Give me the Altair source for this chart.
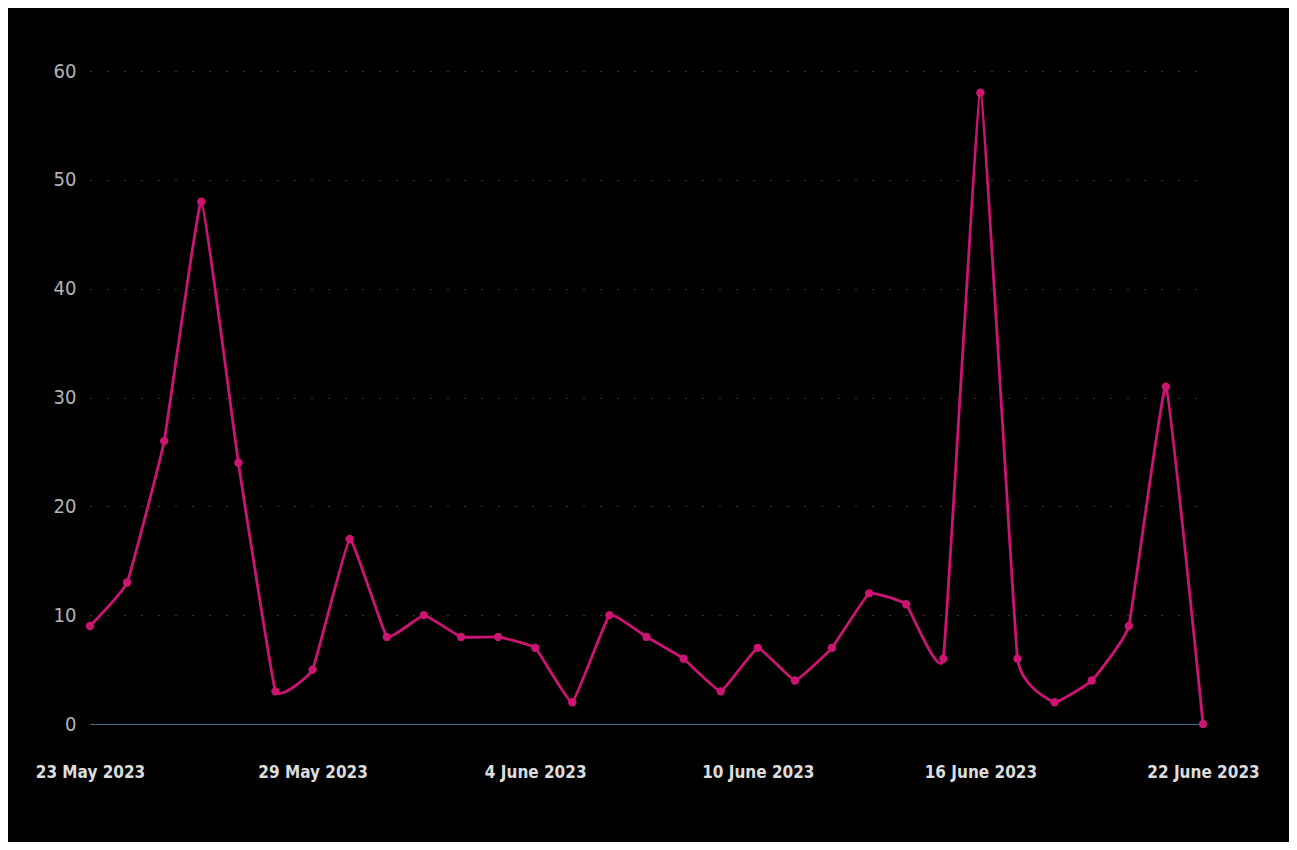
import altair as alt
import pandas as pd

dates = [
    "2023-05-23", "2023-05-24", "2023-05-25", "2023-05-26", "2023-05-27",
    "2023-05-28", "2023-05-29", "2023-05-30", "2023-05-31", "2023-06-01",
    "2023-06-02", "2023-06-03", "2023-06-04", "2023-06-05", "2023-06-06",
    "2023-06-07", "2023-06-08", "2023-06-09", "2023-06-10", "2023-06-11",
    "2023-06-12", "2023-06-13", "2023-06-14", "2023-06-15", "2023-06-16",
    "2023-06-17", "2023-06-18", "2023-06-19", "2023-06-20", "2023-06-21",
    "2023-06-22",
]
values = [9, 13, 26, 48, 24, 3, 5, 17, 8, 10,
          8, 8, 7, 2, 10, 8, 6, 3, 7, 4,
          7, 12, 11, 6, 58, 6, 2, 4, 9, 31,
          0]
x_ticks = [(2023, 5, 23), (2023, 5, 29), (2023, 6, 4), (2023, 6, 10), (2023, 6, 16), (2023, 6, 22)]
y_ticks = [0, 10, 20, 30, 40, 50, 60]

df = pd.DataFrame({"date": dates, "value": values})

line_color = "#cc1472"
font_stack = "DejaVu Sans Condensed, Open Sans, sans-serif"

chart = alt.Chart(df).mark_line(
    interpolate="cardinal",
    tension=0.72,
    color=line_color,
    strokeWidth=2.8,
    point=alt.OverlayMarkDef(filled=True, size=70, color=line_color, opacity=1),
).encode(
    x=alt.X(
        "date:T",
        scale=alt.Scale(type="utc", nice=False),
        axis=alt.Axis(
            title=None,
            values=[alt.DateTime(year=y, month=m, date=d, utc=True) for (y, m, d) in x_ticks],
            labelExpr="utcFormat(datum.value, '%-d %B %Y')",
            labelFont=font_stack,
            labelFontWeight="bold",
            labelFontSize=17,
            labelColor="#dddddd",
            labelPadding=40,
            labelAlign="center",
            ticks=False,
            grid=False,
            domain=True,
            domainColor="#3d6f8e",
            domainWidth=1,
            labelOverlap=False,
            labelBound=False,
            labelFlush=False,
        ),
    ),
    y=alt.Y(
        "value:Q",
        scale=alt.Scale(domain=[0, 60], nice=False),
        axis=alt.Axis(
            title=None,
            values=y_ticks,
            labelFont=font_stack,
            labelFontSize=20,
            labelFontWeight="normal",
            labelColor="#b5b5b5",
            labelPadding=14,
            ticks=False,
            domain=False,
            grid=True,
            gridColor="#666666",
            gridDash=[1, 16],
            gridWidth=1,
        ),
    ),
).properties(
    width=1113,
    height=653,
    padding={"left": 82, "top": 63, "right": 86, "bottom": 118},
    autosize=alt.AutoSizeParams(type="none"),
    background="#000000",
).configure_view(stroke=None, fill="#000000")

chart.save("out.html", embed_options={"renderer": "svg", "actions": False})
